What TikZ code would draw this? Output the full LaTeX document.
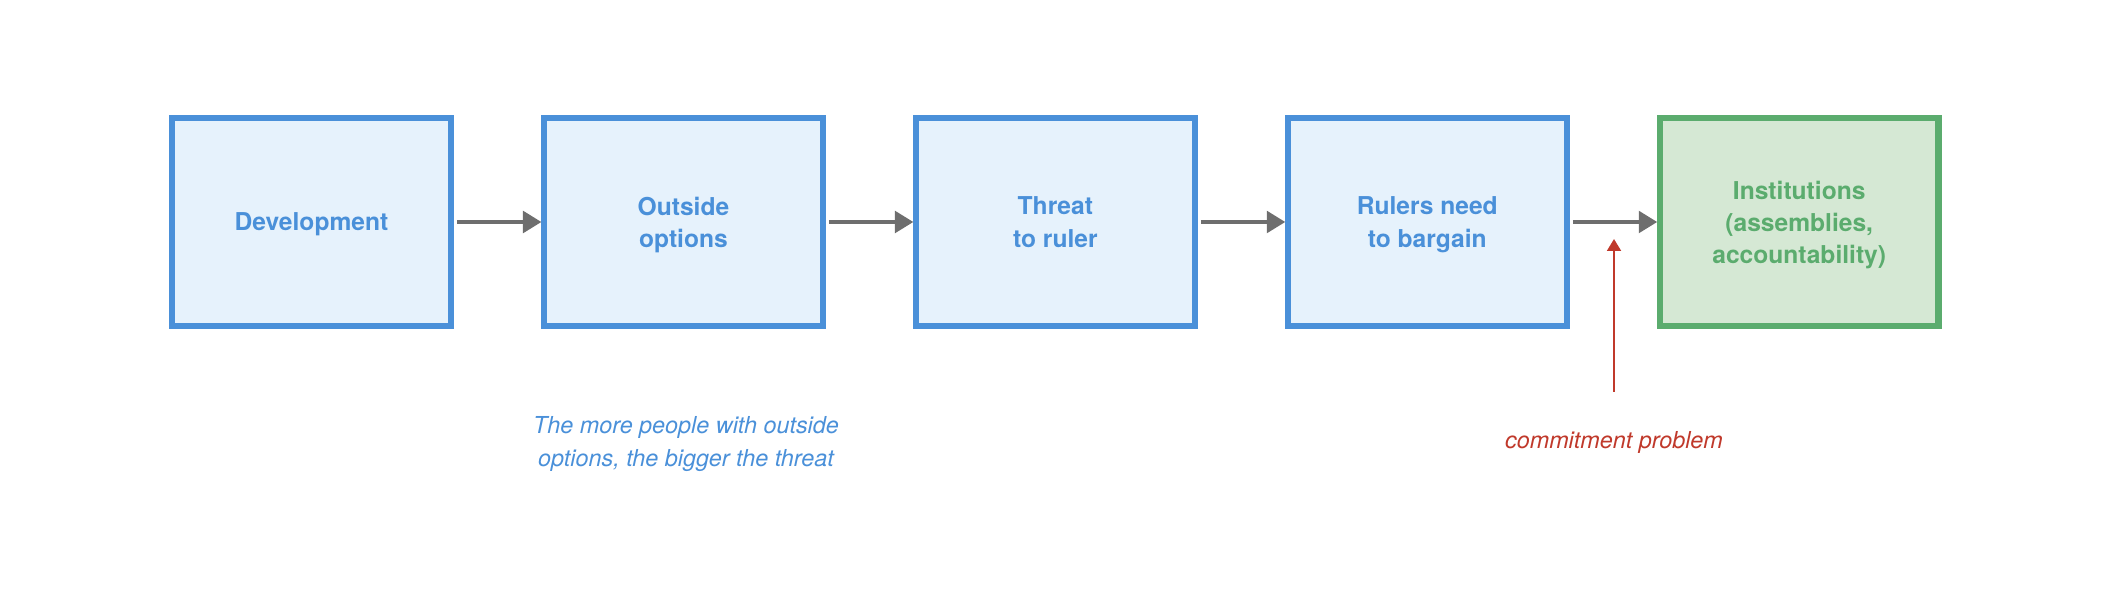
\documentclass[tikz,border=0pt]{standalone}
\usepackage{fontspec}
\setmainfont{TeX Gyre Heros}
\usetikzlibrary{positioning,arrows.meta}
\definecolor{boxblue}{RGB}{74,144,217}
\definecolor{fillblue}{RGB}{230,242,252}
\definecolor{boxgreen}{RGB}{91,172,110}
\definecolor{fillgreen}{RGB}{213,232,212}
\definecolor{arrowgray}{RGB}{110,110,110}
\definecolor{probred}{RGB}{192,57,43}
\begin{document}
\begin{tikzpicture}[x=0.02cm,y=-0.02cm,
	stage/.style={draw=boxblue,fill=fillblue,line width=0.13cm,outer sep=0pt,minimum width=5.58cm,minimum height=4.16cm,align=center,text depth=0pt,text=boxblue,font=\fontsize{14}{18.3}\selectfont\bfseries},
	goal/.style={stage,draw=boxgreen,fill=fillgreen,text=boxgreen},
	flow/.style={draw=arrowgray,line width=0.08cm,-{Triangle[length=0.37cm,width=0.43cm]},shorten <=0.12cm,shorten >=0.05cm},
	note/.style={align=center,font=\fontsize{13.3}{18.7}\selectfont\itshape}]
	\useasboundingbox (0,0) rectangle (2112,614);
	\node[stage] (dev) at (311.5,222) {Development};
	\node[stage,right=1.86cm of dev] (opt) {Outside\\options};
	\node[stage,right=1.86cm of opt] (threat) {Threat\\to ruler};
	\node[stage,right=1.86cm of threat] (bargain) {Rulers need\\to bargain};
	\node[goal,right=1.86cm of bargain] (inst) {Institutions\\(assemblies,\\accountability)};
	\draw[flow] (dev) -- (opt);
	\draw[flow] (opt) -- (threat);
	\draw[flow] (threat) -- (bargain);
	\draw[flow] (bargain) -- (inst);
	\node[note,text=boxblue] (more) at (686,444) {The more people with outside\\options, the bigger the threat};
	\node[note,text=probred] (commit) at (1614,442) {commitment problem};
	\coordinate (cbase) at (1614,392);
	\coordinate (ctip) at (1614,239);
	\draw[probred,line width=0.04cm,-{Triangle[length=0.24cm,width=0.28cm]}] (cbase) -- (ctip);
\end{tikzpicture}
\end{document}
